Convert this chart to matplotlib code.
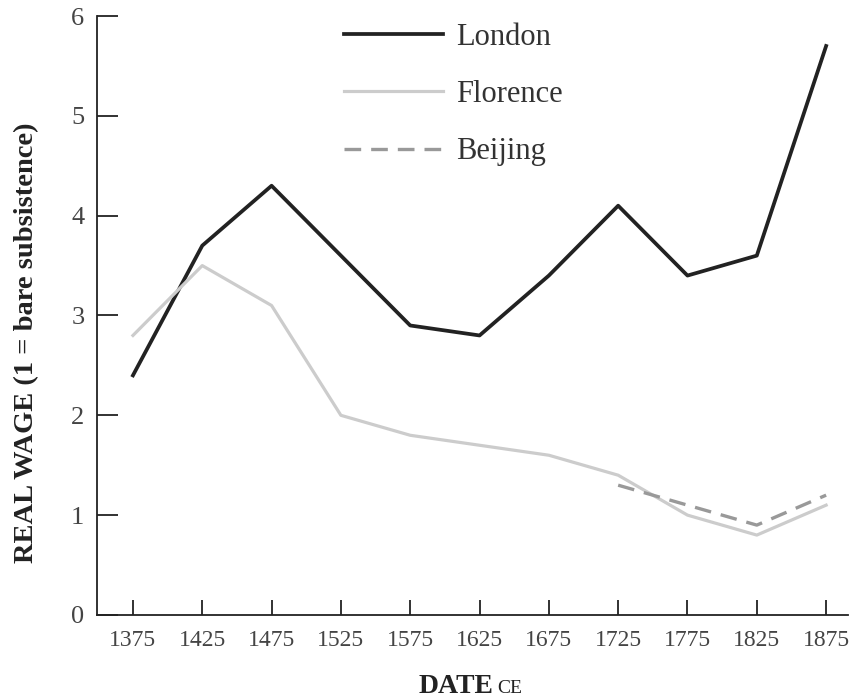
import matplotlib.pyplot as plt

years = [1375, 1425, 1475, 1525, 1575, 1625, 1675, 1725, 1775, 1825, 1875]
london = [2.4, 3.7, 4.3, 3.6, 2.9, 2.8, 3.4, 4.1, 3.4, 3.6, 5.7]
florence = [2.8, 3.5, 3.1, 2.0, 1.8, 1.7, 1.6, 1.4, 1.0, 0.8, 1.1]
beijing_years = [1725, 1775, 1825, 1875]
beijing = [1.3, 1.1, 0.9, 1.2]

plt.rcParams['font.family'] = ['Liberation Serif', 'DejaVu Serif']

fig = plt.figure(figsize=(8.5, 6.98), dpi=100)
ax = fig.add_axes([0.114, 0.119, 0.884, 0.858])

ax.plot(years, london, color='#222222', lw=2.7, label='London')
ax.plot(years, florence, color='#cccccc', lw=2.3, label='Florence')
ax.plot(beijing_years, beijing, color='#999999', lw=2.4, dashes=(5, 3), label='Beijing')

ax.set_xlim(1349, 1891)
ax.set_ylim(0, 6)
ax.set_xticks(years)
ax.set_yticks(range(7))
ax.tick_params(axis='both', direction='in', width=1.3, color='#222222', labelcolor='#444444')
ax.tick_params(axis='x', length=11, labelsize=17, pad=11)
ax.tick_params(axis='y', length=15, labelsize=19, pad=9)
for side in ['top', 'right']:
    ax.spines[side].set_visible(False)
for side in ['left', 'bottom']:
    ax.spines[side].set_linewidth(1.3)
    ax.spines[side].set_color('#222222')

ax.set_ylabel('REAL WAGE (1 = bare subsistence)', fontsize=20.5, fontweight='bold',
              color='#222222')
ax.yaxis.set_label_coords(-0.077, 0.454)
fig.text(0.58, 0.007, 'DATE', fontsize=20, fontweight='bold', color='#222222',
         ha='right', va='baseline')
fig.text(0.585, 0.007, 'CE', fontsize=14, color='#222222', ha='left', va='baseline')

ax.legend(loc='upper left', bbox_to_anchor=(0.292, 1.035), frameon=False, fontsize=22,
          handlelength=3.25, handletextpad=0.42, labelspacing=0.93, labelcolor='#333333')

fig.savefig('out.png', dpi=100)
